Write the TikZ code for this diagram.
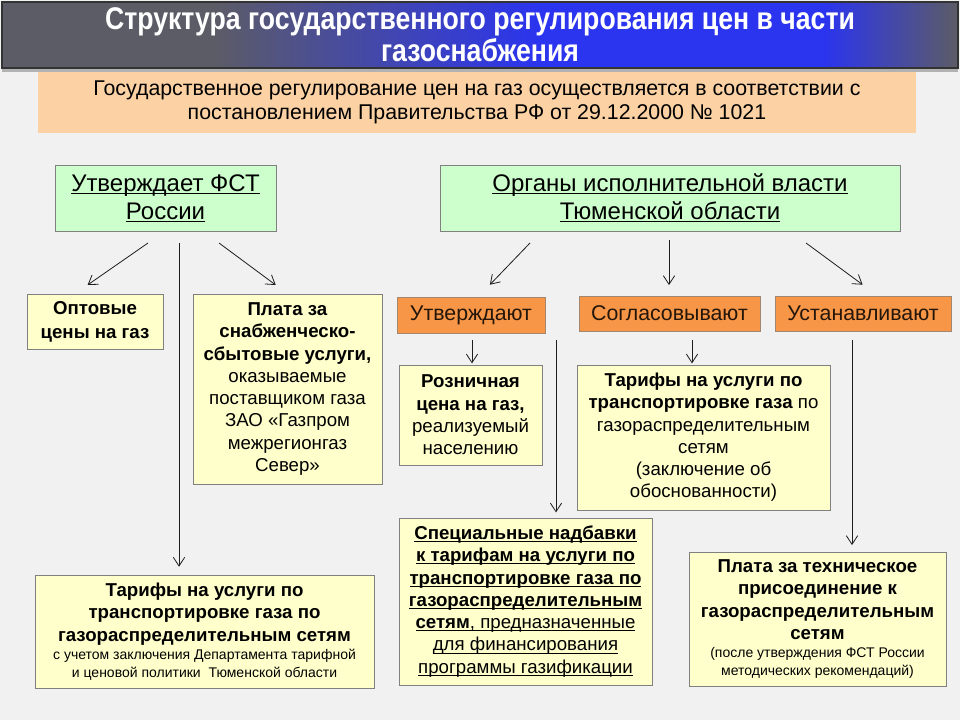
\documentclass[tikz,border=0pt]{standalone}
\usepackage{fontspec}
\setmainfont{Liberation Sans}
\newfontfamily\titlefont[FakeStretch=0.85]{Liberation Sans}
\usetikzlibrary{arrows.meta,shadows}

\definecolor{bgcolor}{HTML}{F1F1F1}
\definecolor{titlegray}{HTML}{5C5C66}
\definecolor{titleblue}{HTML}{2B34EE}
\definecolor{notefill}{HTML}{FCD2A4}
\definecolor{greenfill}{HTML}{CCFFCC}
\definecolor{yellowfill}{HTML}{FFFFCC}
\definecolor{orangefill}{HTML}{F79646}
\definecolor{boxline}{HTML}{808080}
\definecolor{linkcolor}{HTML}{1E1E1E}

% only the range 25bp..75bp is visible on the node
\pgfdeclarehorizontalshading{titlebar}{100bp}{color(0bp)=(titlegray); color(36bp)=(titlegray); color(53bp)=(titleblue); color(68bp)=(titleblue); color(75bp)=(titlegray); color(100bp)=(titlegray)}

\newcommand{\undl}[1]{\underline{\smash{#1}}\vphantom{#1}} % underline close to the baseline

\begin{document}
\begin{tikzpicture}[
			x = 0.75pt, y = -0.75pt, % pixel grid of the slide
			> = {Straight Barb[length=6.5pt,width=8.5pt]}, % arrow head style
			link/.style = {->, draw = linkcolor, line width = 0.6pt},
			inner sep = 0pt,
			align = flush center
			]
			
			\tikzstyle{title}=[
			draw = black!80, line width = 1.2pt,
			shading = titlebar,
			drop shadow = {shadow xshift = 0pt, shadow yshift = -3pt, opacity = 0.45, fill = black!60},
			text = white,
			font = \titlefont\bfseries\fontsize{23.5}{24}\selectfont
			]
			\tikzstyle{note}=[
			fill = notefill,
			font = \fontsize{16}{18}\selectfont
			]
			\tikzstyle{gbox}=[
			draw = boxline, fill = greenfill,
			font = \fontsize{18}{21}\selectfont
			]
			\tikzstyle{obox}=[
			draw = boxline!70!orangefill, fill = orangefill,
			text = black!85!orangefill,
			font = \fontsize{16}{18}\selectfont
			]
			\tikzstyle{ybox}=[
			draw = boxline, fill = yellowfill,
			font = \fontsize{14}{16.7}\selectfont
			]
			
			% page
			\fill[bgcolor] (0,0) rectangle (960,720);
			\useasboundingbox (0,0) rectangle (960,720);
			
			% heading
			\node[title, minimum width = 717pt, minimum height = 49.5pt] (head) at (480,35)
				{Структура государственного регулирования цен в части\\газоснабжения};
			\node[note, minimum width = 658.5pt, minimum height = 45.75pt] (law) at (477,102.5)
				{Государственное регулирование цен на газ осуществляется в соответствии с\\постановлением Правительства РФ от 29.12.2000 № 1021};
			
			% regulators
			\node[gbox, minimum width = 165.75pt, minimum height = 49.5pt] (fst) at (165.5,198)
				{\undl{Утверждает ФСТ}\\\undl{России}};
			\node[gbox, minimum width = 345pt, minimum height = 49.5pt] (organs) at (670,198)
				{\undl{Органы исполнительной власти}\\\undl{Тюменской области}};
			
			% what FST approves
			\node[ybox, minimum width = 102pt, minimum height = 41.25pt, font = \bfseries\fontsize{14}{18}\selectfont] (opt) at (95,321.5)
				{Оптовые\\цены на газ};
			\node[ybox, minimum width = 141.75pt, minimum height = 142.5pt, text width = 138pt] (plata) at (287.5,389)
				{\textbf{Плата за}\\\textbf{снабженческо-}\\\textbf{сбытовые услуги,}\\оказываемые\\поставщиком газа\\ЗАО «Газпром\\межрегионгаз\\Север»};
			\node[ybox, minimum width = 254.25pt, minimum height = 84.75pt, text width = 250pt] (tarif) at (204.5,631.5)
				{\textbf{Тарифы на услуги по}\\\textbf{транспортировке газа по}\\\textbf{газораспределительным сетям}\par
				\fontsize{10.5}{13.5}\selectfont с учетом заключения Департамента тарифной\\и ценовой политики\ \ Тюменской области\par};
			
			% regional bodies
			\node[obox, minimum width = 111pt, minimum height = 27pt] (utv) at (471,315) {Утверждают};
			\node[obox, minimum width = 135.75pt, minimum height = 26.25pt] (sogl) at (669.5,313.5) {Согласовывают};
			\node[obox, minimum width = 132pt, minimum height = 26.25pt] (ust) at (863,313.5) {Устанавливают};
			
			\node[ybox, minimum width = 107.25pt, minimum height = 75pt, text width = 104pt] (rozn) at (470.5,415)
				{\textbf{Розничная}\\\textbf{цена на газ,}\\реализуемый\\населению};
			\node[ybox, minimum width = 189.75pt, minimum height = 125.25pt, text width = 187pt] (nadb) at (525.5,601.5)
				{\undl{\textbf{Специальные надбавки}}\\\undl{\textbf{к тарифам на услуги по}}\\\undl{\textbf{транспортировке газа по}}\\\undl{\textbf{газораспределительным}}\\\undl{\textbf{сетям}, предназначенные}\\\undl{для финансирования}\\\undl{программы газификации}};
			\node[ybox, minimum width = 189.75pt, minimum height = 108.75pt, text width = 187pt] (grs) at (703.5,437.5)
				{\textbf{Тарифы на услуги по}\\\textbf{транспортировке газа} по\\газораспределительным\\сетям\\(заключение об\\обоснованности)};
			\node[ybox, minimum width = 192.75pt, minimum height = 100.5pt, text width = 190pt] (tech) at (817.5,619)
				{\textbf{Плата за техническое}\\\textbf{присоединение к}\\\textbf{газораспределительным}\\\textbf{сетям}\par
				\fontsize{10.5}{13.5}\selectfont (после утверждения ФСТ России\\методических рекомендаций)\par};
			
			% free ends of the connectors
			\coordinate (fst-l) at (148,243);
			\coordinate (fst-m) at (179,243);
			\coordinate (fst-r) at (219,243);
			\coordinate (org-l) at (530,243);
			\coordinate (org-m) at (669,240);
			\coordinate (org-r) at (806,243);
			\coordinate (utv-l) at (472,340);
			\coordinate (utv-r) at (556,340);
			\coordinate (sogl-m) at (692,340);
			\coordinate (ust-m) at (852,340);
			
			\draw[link, shorten > = 11.5pt] (fst-l) -- ([xshift=-15pt]opt.north);
			\draw[link, shorten > = 6pt] (fst-m) -- (fst-m |- tarif.north);
			\draw[link, shorten > = 11pt] (fst-r) -- (plata.north);
			\draw[link, shorten > = 12.5pt] (org-l) -- ([xshift=5.5pt]utv.north);
			\draw[link, shorten > = 8pt] (org-m) -- (org-m |- sogl.north);
			\draw[link, shorten > = 14pt] (org-r) -- ([xshift=11pt]ust.north);
			\draw[link, shorten > = 1pt] (utv-l) -- (utv-l |- rozn.north);
			\draw[link, shorten > = 4pt] (utv-r) -- (utv-r |- nadb.north);
			\draw[link, shorten > = 1pt] (sogl-m) -- (sogl-m |- grs.north);
			\draw[link, shorten > = 5pt] (ust-m) -- (ust-m |- tech.north);
		\end{tikzpicture}
\end{document}
